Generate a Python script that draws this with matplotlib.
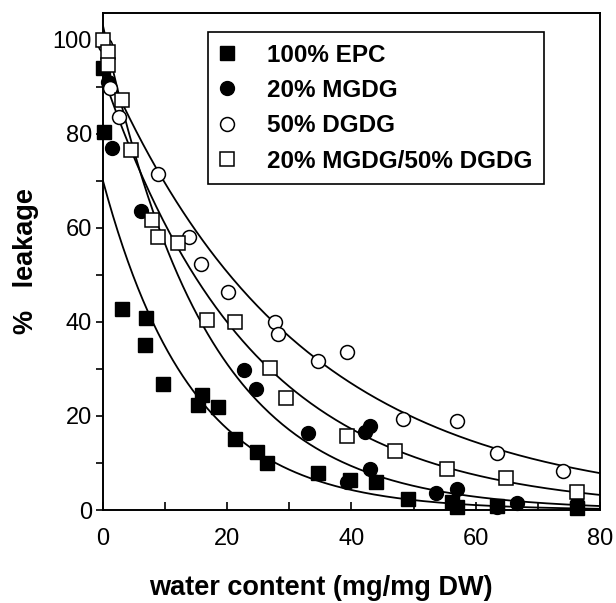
"""Membrane leakage vs. water content, four lipid compositions with exponential fits."""

import numpy as np
import matplotlib
matplotlib.use("Agg")
import matplotlib.pyplot as plt
from matplotlib.ticker import MultipleLocator

plt.rcParams["font.family"] = ["Liberation Sans", "DejaVu Sans"]

# 100% EPC (filled squares)
epc_x = [0.0, 0.2, 3.1, 6.9, 6.8, 9.7, 15.9, 15.3, 18.5, 21.3, 24.8, 26.4,
         34.6, 39.8, 44.0, 49.1, 56.1, 57.0, 63.4, 76.3]
epc_y = [94.0, 80.5, 42.8, 40.9, 35.1, 26.8, 24.5, 22.3, 21.9, 15.1, 12.3, 10.0,
         7.9, 6.4, 6.0, 2.3, 1.8, 0.7, 0.9, 0.5]

# 20% MGDG (filled circles)
mgdg_x = [0.8, 1.5, 6.1, 22.7, 24.6, 33.0, 42.2, 43.0, 43.0, 39.3, 53.6,
          57.0, 63.4, 66.7, 76.3]
mgdg_y = [91.0, 77.0, 63.6, 29.8, 25.7, 16.4, 16.6, 17.9, 8.7, 6.0, 3.6,
          4.5, 0.6, 1.5, 1.5]

# 50% DGDG (open circles)
dgdg_x = [0.3, 1.1, 2.6, 8.9, 13.8, 15.8, 20.1, 27.7, 28.2, 34.6, 39.3,
          48.3, 57.0, 63.4, 74.1]
dgdg_y = [99.0, 89.8, 83.6, 71.5, 58.0, 52.3, 46.4, 40.0, 37.4, 31.7, 33.6,
          19.4, 18.9, 12.1, 8.3]

# 20% MGDG/50% DGDG (open squares)
mix_x = [0.0, 0.8, 0.8, 3.1, 4.5, 7.9, 8.9, 12.1, 16.7, 21.3, 26.9, 29.5,
         39.3, 47.0, 55.4, 64.9, 76.3]
mix_y = [100.0, 97.4, 94.7, 87.2, 76.6, 61.7, 58.1, 56.8, 40.4, 40.0, 30.2,
         23.8, 15.7, 12.6, 8.7, 6.8, 3.8]

# fitted curves y = a * exp(-k x) + c
fit_a = [70.0, 103.0, 95.0, 92.5]
fit_k = [0.070, 0.060, 0.032, 0.042]
fit_c = [0.0, 0.0, 0.5, 0.0]

labels = ["100% EPC", "20% MGDG", "50% DGDG", "20% MGDG/50% DGDG"]


def main():
    fig = plt.figure(figsize=(6.16, 6.03), dpi=100)
    ax = fig.add_axes([0.1672, 0.1542, 0.8068, 0.8242])

    xs = np.linspace(0, 80, 300)
    for a, k, c in zip(fit_a, fit_k, fit_c):
        ax.plot(xs, a * np.exp(-k * xs) + c, color="black", lw=1.3, zorder=2)

    ms = 10
    ax.plot(epc_x, epc_y, "s", ms=ms, mfc="black", mec="black",
            ls="none", clip_on=False, zorder=3, label=labels[0])
    ax.plot(mgdg_x, mgdg_y, "o", ms=ms, mfc="black", mec="black",
            ls="none", clip_on=False, zorder=3, label=labels[1])
    ax.plot(dgdg_x, dgdg_y, "o", ms=ms, mfc="white", mec="black", mew=1.1,
            ls="none", clip_on=False, zorder=3, label=labels[2])
    ax.plot(mix_x, mix_y, "s", ms=ms, mfc="white", mec="black", mew=1.1,
            ls="none", clip_on=False, zorder=4, label=labels[3])

    ax.set_xlim(0, 80)
    ax.set_ylim(0, 105.7)

    for s in ax.spines.values():
        s.set_linewidth(1.4)

    ax.xaxis.set_major_locator(MultipleLocator(20))
    ax.xaxis.set_minor_locator(MultipleLocator(10))
    ax.yaxis.set_major_locator(MultipleLocator(20))
    ax.yaxis.set_minor_locator(MultipleLocator(10))
    ax.tick_params(axis="x", which="both", direction="in", length=6, width=1.2,
                   labelsize=17, pad=13)
    ax.tick_params(axis="y", which="both", direction="out", length=5, width=1.2,
                   labelsize=17, pad=3)

    ax.set_xlabel("water content (mg/mg DW)", fontsize=19.5, fontweight="bold")
    ax.xaxis.set_label_coords(0.439, -0.130)
    ax.set_ylabel("%   leakage", fontsize=19.5, fontweight="bold", labelpad=10)

    leg = ax.legend(loc="upper left", bbox_to_anchor=(0.211, 0.962),
                    borderaxespad=0, frameon=True, fancybox=False,
                    edgecolor="black", framealpha=1, handlelength=0.58,
                    handletextpad=1.37, labelspacing=0.51, borderpad=0.48,
                    prop={"weight": "bold", "size": 17.5})
    leg.get_frame().set_linewidth(1.2)

    fig.savefig("out.png", dpi=100)
    plt.close(fig)


if __name__ == "__main__":
    main()
